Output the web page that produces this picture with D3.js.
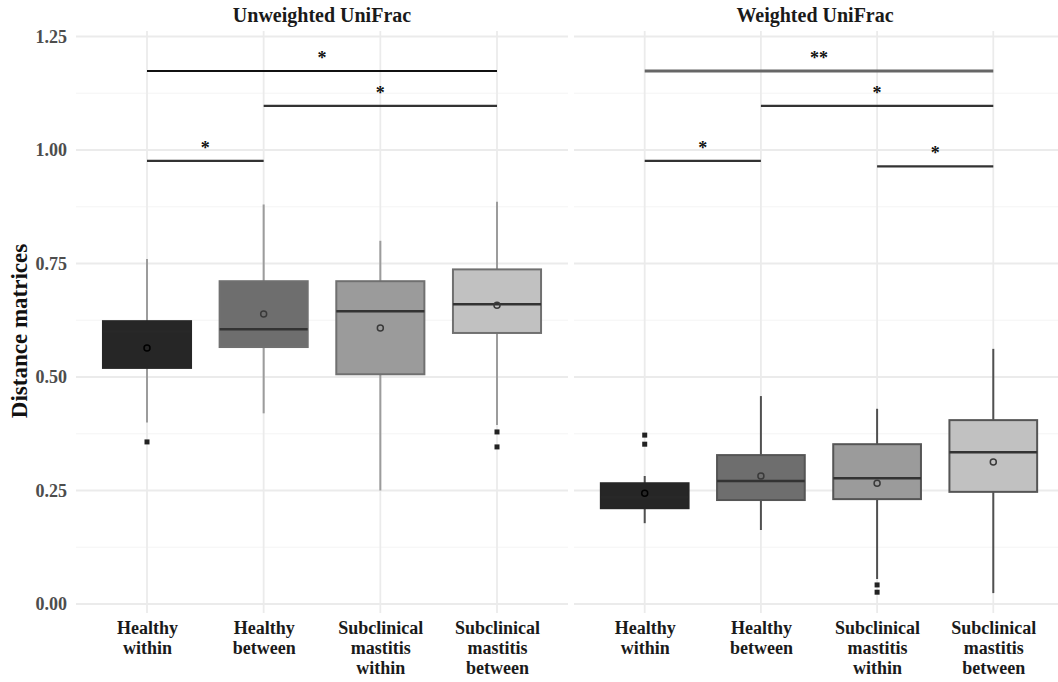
<!DOCTYPE html>
<html>
<head>
<meta charset="utf-8">
<script src="https://cdn.jsdelivr.net/npm/d3@7"></script>
<style>
  html, body { margin: 0; padding: 0; background: #ffffff; }
  svg { display: block; }
  text { font-family: "Liberation Serif", "Times New Roman", serif; }
</style>
</head>
<body>
<svg id="chart" width="1058" height="682"></svg>
<script>
// ---------------- data ----------------
const categories = ["Healthy within", "Healthy between", "Subclinical mastitis within", "Subclinical mastitis between"];
const categoryLines = [["Healthy", "within"], ["Healthy", "between"], ["Subclinical", "mastitis", "within"], ["Subclinical", "mastitis", "between"]];
const panelTitles = ["Unweighted UniFrac", "Weighted UniFrac"];
const yTicks = [0, 0.25, 0.5, 0.75, 1.0, 1.25];
const yMinorTicks = [0.125, 0.375, 0.625, 0.875, 1.125];
const yTitle = "Distance matrices";

// Unweighted UniFrac box statistics
const uwLower = [0.40, 0.42, 0.25, 0.394];
const uwQ1 = [0.520, 0.566, 0.506, 0.597];
const uwMedian = [0.600, 0.605, 0.645, 0.660];
const uwQ3 = [0.623, 0.711, 0.711, 0.737];
const uwUpper = [0.76, 0.88, 0.80, 0.886];
const uwMean = [0.564, 0.639, 0.608, 0.658];
const uwOutliers = [[0.357], [], [], [0.379, 0.346]];

// Weighted UniFrac box statistics
const wLower = [0.178, 0.163, 0.055, 0.024];
const wQ1 = [0.211, 0.229, 0.231, 0.247];
const wMedian = [0.235, 0.271, 0.277, 0.334];
const wQ3 = [0.266, 0.328, 0.352, 0.405];
const wUpper = [0.282, 0.458, 0.43, 0.562];
const wMean = [0.244, 0.282, 0.266, 0.313];
const wOutliers = [[0.372, 0.352], [], [0.042, 0.026], []];

// significance brackets: [from index, to index, height, label]
const uwSignif = [[0, 3, 1.174, "*"], [1, 3, 1.097, "*"], [0, 1, 0.976, "*"]];
const wSignif = [[0, 3, 1.174, "**"], [1, 3, 1.097, "*"], [0, 1, 0.976, "*"], [2, 3, 0.964, "*"]];

const fills = ["#262626", "#6e6e6e", "#9b9b9b", "#c1c1c1"];

// ---------------- layout ----------------
const svg = d3.select("#chart");
const panelTop = 31, panelBottom = 613;
const y = d3.scaleLinear().domain([0, 1.25]).range([604, 36.5]);

const panels = [
  { title: panelTitles[0], range: [77, 567], gridRange: [76, 568],
    lower: uwLower, q1: uwQ1, median: uwMedian, q3: uwQ3, upper: uwUpper, mean: uwMean, outliers: uwOutliers,
    signif: uwSignif, whisker: "#9c9c9c", outline: "#707070", topLine: "#111111" },
  { title: panelTitles[1], range: [575, 1063], gridRange: [574, 1058],
    lower: wLower, q1: wQ1, median: wMedian, q3: wQ3, upper: wUpper, mean: wMean, outliers: wOutliers,
    signif: wSignif, whisker: "#505050", outline: "#555555", topLine: "#666666" }
];

panels.forEach((p, pi) => {
  const x = d3.scalePoint().domain(categories).range(p.range).padding(0.6);
  const step = x.step();
  const bw = step * 0.755;
  const g = svg.append("g");

  // grid
  g.selectAll(".minor").data(yMinorTicks).enter().append("line")
    .attr("x1", p.gridRange[0]).attr("x2", p.gridRange[1])
    .attr("y1", d => y(d)).attr("y2", d => y(d))
    .attr("stroke", "#f4f4f4").attr("stroke-width", 1.2);
  g.selectAll(".major").data(yTicks).enter().append("line")
    .attr("x1", p.gridRange[0]).attr("x2", p.gridRange[1])
    .attr("y1", d => y(d)).attr("y2", d => y(d))
    .attr("stroke", "#ebebeb").attr("stroke-width", 1.8);
  g.selectAll(".vgrid").data(categories).enter().append("line")
    .attr("x1", d => x(d)).attr("x2", d => x(d))
    .attr("y1", panelTop).attr("y2", panelBottom)
    .attr("stroke", "#ebebeb").attr("stroke-width", 1.8);

  // panel title
  svg.append("text")
    .attr("x", (p.range[0] + p.range[1] - (pi === 1 ? 8 : 0)) / 2)
    .attr("y", 22)
    .attr("text-anchor", "middle")
    .attr("font-weight", "bold")
    .attr("font-size", 20)
    .attr("fill", "#1a1a1a")
    .text(p.title);

  // whiskers
  categories.forEach((c, i) => {
    g.append("line")
      .attr("x1", x(c)).attr("x2", x(c))
      .attr("y1", y(p.upper[i])).attr("y2", y(p.q3[i]))
      .attr("stroke", p.whisker).attr("stroke-width", 2);
    g.append("line")
      .attr("x1", x(c)).attr("x2", x(c))
      .attr("y1", y(p.q1[i])).attr("y2", y(p.lower[i]))
      .attr("stroke", p.whisker).attr("stroke-width", 2);
  });

  // boxes
  categories.forEach((c, i) => {
    g.append("rect")
      .attr("x", x(c) - bw / 2)
      .attr("y", y(p.q3[i]))
      .attr("width", bw)
      .attr("height", y(p.q1[i]) - y(p.q3[i]))
      .attr("fill", fills[i])
      .attr("stroke", i === 0 ? fills[0] : p.outline)
      .attr("stroke-width", 2);
    g.append("line")
      .attr("x1", x(c) - bw / 2).attr("x2", x(c) + bw / 2)
      .attr("y1", y(p.median[i])).attr("y2", y(p.median[i]))
      .attr("stroke", i === 0 ? "#282828" : "#333333").attr("stroke-width", 2.5);
    // mean
    g.append("circle")
      .attr("cx", x(c)).attr("cy", y(p.mean[i]))
      .attr("r", 3)
      .attr("fill", "none")
      .attr("stroke", i === 0 ? "#000000" : "#3a3a3a")
      .attr("stroke-width", 1.5);
    // outliers
    p.outliers[i].forEach(v => {
      g.append("rect")
        .attr("x", x(c) - 2.5).attr("y", y(v) - 2.5)
        .attr("width", 5).attr("height", 5)
        .attr("fill", "#222222");
    });
  });

  // significance brackets
  p.signif.forEach((s, k) => {
    const x1 = x(categories[s[0]]), x2 = x(categories[s[1]]);
    g.append("line")
      .attr("x1", x1).attr("x2", x2)
      .attr("y1", y(s[2])).attr("y2", y(s[2]))
      .attr("stroke", k === 0 ? p.topLine : "#333333")
      .attr("stroke-width", k === 0 && pi === 1 ? 2.8 : 2.2);
    g.append("text")
      .attr("x", (x1 + x2) / 2)
      .attr("y", y(s[2]) - 7)
      .attr("text-anchor", "middle")
      .attr("font-weight", "bold")
      .attr("font-size", 18)
      .attr("fill", "#111111")
      .text(s[3]);
  });

  // x axis labels
  const xAxis = d3.axisBottom(x).tickSize(0).tickFormat("");
  const ax = svg.append("g").attr("transform", `translate(0, ${panelBottom})`).call(xAxis);
  ax.select(".domain").remove();
  ax.selectAll(".tick").each(function (d, i) {
    const t = d3.select(this).append("text")
      .attr("text-anchor", "middle")
      .attr("font-weight", "bold")
      .attr("font-size", 18)
      .attr("fill", "#1a1a1a");
    categoryLines[i].forEach((ln, j) => {
      t.append("tspan").attr("x", 0).attr("y", 21 + j * 20).text(ln);
    });
  });
});

// y axis
const yAxis = d3.axisLeft(y).tickValues(yTicks).tickSize(0).tickPadding(0).tickFormat(d3.format(".2f"));
const ya = svg.append("g").attr("transform", "translate(67,0)").call(yAxis);
ya.select(".domain").remove();
ya.selectAll("text")
  .attr("font-family", "Liberation Serif, serif")
  .attr("font-size", 18)
  .attr("font-weight", "bold")
  .attr("fill", "#4d4d4d");

svg.append("text")
  .attr("transform", "translate(27, 331) rotate(-90)")
  .attr("text-anchor", "middle")
  .attr("font-weight", "bold")
  .attr("font-size", 23)
  .attr("fill", "#111111")
  .text(yTitle);
</script>
</body>
</html>
